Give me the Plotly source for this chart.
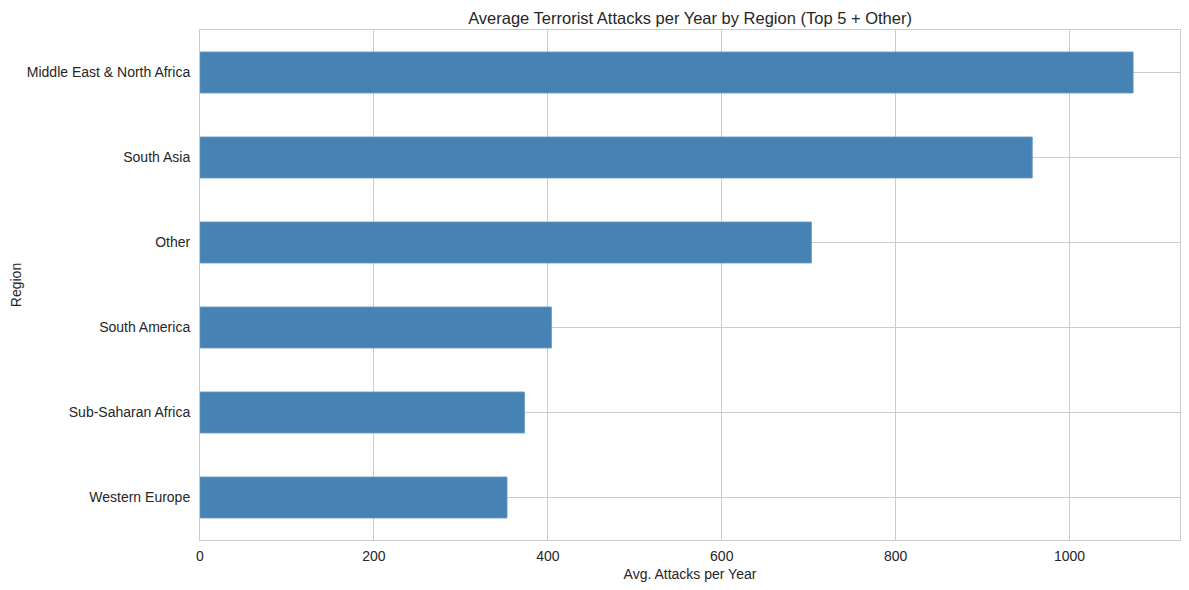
import plotly.graph_objects as go

# average attacks per year, bottom to top as drawn
regions = ["Western Europe", "Sub-Saharan Africa", "South America",
           "Other", "South Asia", "Middle East & North Africa"]
avg_attacks = [353, 373, 404, 703, 957, 1073]
x_ticks = [0, 200, 400, 600, 800, 1000]

txt = "#262626"
grid = "#cccccc"

fig = go.Figure()
fig.add_trace(go.Bar(
    y=regions, x=avg_attacks, orientation="h",
    width=0.48,
    marker=dict(color="#4682b4", line=dict(color="#5f93c0", width=1)),
    hoverinfo="x+y",
))

# page body has an 8px margin, so the figure is a bit smaller than the window
fig.update_layout(
    width=1181, height=582,
    margin=dict(l=192, r=9, t=22, b=50),
    paper_bgcolor="white", plot_bgcolor="white",
    font=dict(family="Liberation Sans, Arial, sans-serif", size=14, color=txt),
    title=dict(text="Average Terrorist Attacks per Year by Region (Top 5 + Other)",
               x=0.5775, xanchor="center", y=1, yanchor="top",
               pad=dict(t=4, b=0),
               font=dict(size=16.5, color=txt)),
    showlegend=False,
)

fig.update_xaxes(
    range=[0, 1127],
    tickvals=x_ticks,
    automargin=False,
    showgrid=True, gridcolor=grid, gridwidth=1,
    zeroline=False,
    showline=True, linecolor=grid, linewidth=1, mirror=True,
    ticks="outside", ticklen=3, tickcolor="rgba(0,0,0,0)",
    tickfont=dict(size=14, color=txt),
    title=dict(text="Avg. Attacks per Year", font=dict(size=14, color=txt), standoff=6),
)
fig.update_yaxes(
    type="category",
    categoryorder="array", categoryarray=regions,
    range=[-0.5, 5.5],
    automargin=False,
    showgrid=True, gridcolor=grid, gridwidth=1,
    zeroline=False,
    showline=True, linecolor=grid, linewidth=1, mirror=True,
    ticks="outside", ticklen=6, tickcolor="rgba(0,0,0,0)",
    tickfont=dict(size=14, color=txt),
    title=dict(text="Region", font=dict(size=14, color=txt), standoff=4),
)

fig.write_html("out.html")
